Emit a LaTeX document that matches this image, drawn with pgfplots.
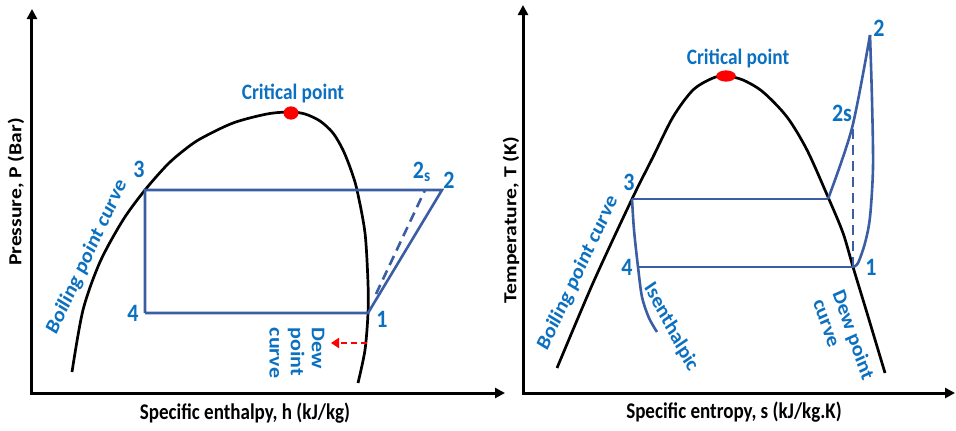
\documentclass[border=0pt]{standalone}
\usepackage{fontspec}
\setmainfont{Carlito}
\usepackage{pgfplots}
\pgfplotsset{compat=1.18}
\usetikzlibrary{arrows.meta}
\definecolor{cyc}{HTML}{3A5DA3}
\definecolor{lbl}{HTML}{0B70C0}
\begin{document}
\begin{tikzpicture}[
  lab/.style={font=\bfseries\fontsize{11pt}{12pt}\selectfont, text=lbl, xscale=0.88, inner sep=0pt},
  num/.style={font=\bfseries\fontsize{12.5pt}{13pt}\selectfont, text=lbl, xscale=0.88, inner sep=0pt},
  axlab/.style={font=\bfseries\fontsize{11.2pt}{13pt}\selectfont, xscale=0.85, inner sep=0pt},
  aylab/.style={font=\bfseries\fontsize{10.8pt}{13pt}\selectfont, xscale=0.85, inner sep=0pt},
]
\useasboundingbox (0,0) rectangle (478pt,215pt);
\pgfplotsset{panel/.style={x=0.5pt, y=0.5pt, axis lines=left, xtick=\empty, ytick=\empty,
  enlargelimits=false, clip=false, anchor=south west,
  axis line style={line width=1.5pt, line cap=rect, -{Triangle[length=5pt,width=5pt]}}}}

% ---------------- P-h diagram ----------------
\begin{axis}[panel, at={(16pt,18.5pt)}, xmin=32, xmax=505, ymin=37, ymax=421]
\addplot[black, line width=1.35pt, smooth] coordinates {
 (72,58) (83,120) (100,168) (123,210) (145,240) (167,265) (183,279) (200,291) (233,307) (267,316)
 (290,318) (305,316) (320,309) (333,297) (343,280) (351,260) (357,240) (365,197)
 (368,147) (368,117) (365,80) (358,47)};
\addplot[cyc, line width=1.3pt, line join=miter] coordinates {
 (145,117) (145,240) (442,240) (368,117) (145,117)};
\addplot[cyc, line width=1.3pt, dash pattern=on 5pt off 3pt] coordinates {(376,136) (425,240)};
\addplot[red, line width=1.2pt, dash pattern=on 3pt off 2pt, -{Triangle[length=4pt,width=5pt]}] coordinates {(367,87) (331,87)};
\addplot[only marks, mark=*, mark size=3.1pt, mark options={fill=red, draw=red, xscale=1.15}] coordinates {(291,317)};
\node[lab] at (axis cs:293,337) {Critical point};
\node[num] at (axis cs:139,261) {3};
\node[lab, font=\bfseries\fontsize{12.5pt}{13pt}\selectfont] at (axis cs:422,258) {2\textsubscript{s}};
\node[num] at (axis cs:449,250) {2};
\node[num] at (axis cs:133,117) {4};
\node[num] at (axis cs:382,111) {1};
\node[lab, rotate=62] at (axis cs:87,173) {Boiling point curve};
\node[lab, rotate=-90, align=left] at (axis cs:297,77) {Dew\\point\\curve};
\node[aylab, rotate=90] at (axis cs:16,238) {Pressure, P (Bar)};
\node[axlab] at (axis cs:245,17) {Specific enthalpy, h (kJ/kg)};
\end{axis}

% ---------------- T-s diagram ----------------
\begin{axis}[panel, at={(261.5pt,18.5pt)}, xmin=523, xmax=955, ymin=37, ymax=425]
\addplot[black, line width=1.35pt, smooth] coordinates {
 (557,62) (593,147) (632,231) (653,273) (673,313) (693,340) (713,352) (726,354)
 (743,350) (763,338) (787,313) (807,280) (828,233) (843,197) (853,163) (867,117) (885,57)};
\addplot[cyc, line width=1.3pt] coordinates {(632,231) (828,231)};
\addplot[cyc, line width=1.3pt] coordinates {(639,163) (853,163)};
\addplot[cyc, line width=1.3pt, smooth] coordinates {(828,231) (852,302) (870,395)};
\addplot[cyc, line width=1.3pt, smooth] coordinates {
 (870,395) (872,330) (873,263) (870,213) (865,187) (858,167) (853,163)};
\addplot[cyc, line width=1.3pt, dash pattern=on 5pt off 3pt] coordinates {(853,163) (853,303)};
\addplot[cyc, line width=1.3pt, smooth] coordinates {
 (632,231) (634,200) (638,163) (642,133) (649,112) (657,98)};
\addplot[only marks, mark=*, mark size=2.6pt, mark options={fill=red, draw=red, xscale=1.8}] coordinates {(726,354)};
\node[lab] at (axis cs:738,372) {Critical point};
\node[num] at (axis cs:629,248) {3};
\node[num] at (axis cs:627,163) {4};
\node[num] at (axis cs:871,163) {1};
\node[num] at (axis cs:879,402) {2};
\node[num] at (axis cs:842,317) {2s};
\node[lab, rotate=62] at (axis cs:578,157) {Boiling point curve};
\node[lab, rotate=-59] at (axis cs:671,103) {Isenthalpic};
\node[lab, rotate=-68.6, align=left] at (axis cs:844,91) {Dew point\\curve};
\node[aylab, rotate=90] at (axis cs:511,210) {Temperature, T (K)};
\node[axlab] at (axis cs:734,18) {Specific entropy, s (kJ/kg.K)};
\end{axis}
\end{tikzpicture}
\end{document}
